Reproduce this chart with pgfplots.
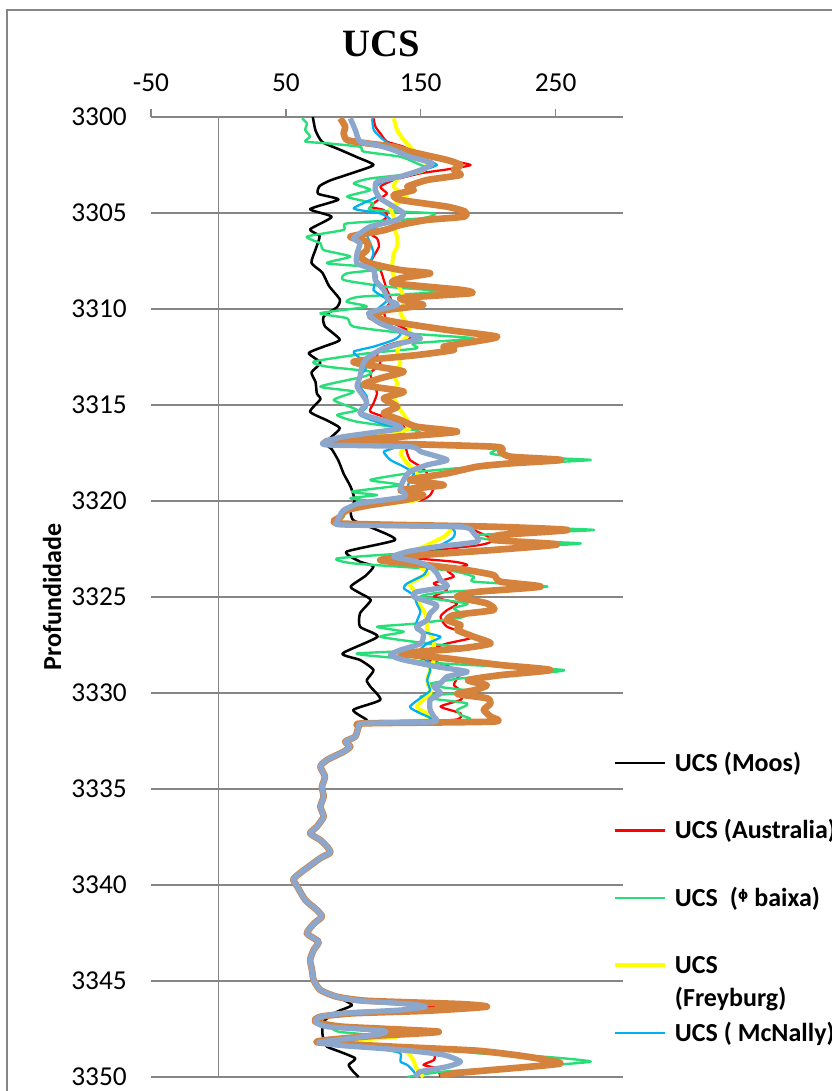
\documentclass[border=0pt]{standalone}
\usepackage{fontspec}
\setmainfont{Carlito}
\newfontfamily\titlefont{Liberation Serif}
\newfontfamily\dejavu{DejaVu Sans}
\usepackage{pgfplots}
\pgfplotsset{compat=1.18}

\definecolor{gridgray}{RGB}{134,134,134}
\definecolor{cMoos}{RGB}{0,0,0}
\definecolor{cAus}{RGB}{255,0,0}
\definecolor{cPhi}{RGB}{40,222,120}
\definecolor{cFrey}{RGB}{255,255,0}
\definecolor{cMcN}{RGB}{0,176,240}
\definecolor{cOrange}{RGB}{212,130,60}
\definecolor{cGrayBlue}{RGB}{141,166,204}

\begin{document}
\begin{tikzpicture}
% page area (1pt = 4/3 px of the final image)
\useasboundingbox (-113.25pt,-730.5pt) rectangle (510pt,87.75pt);
% chart area border
\draw[gridgray, line width=1.5pt] (-108pt,80.25pt) rectangle (540pt,-770pt);

\begin{axis}[
  at={(0pt,0pt)}, anchor=north west,
  scale only axis, width=354pt, height=720pt,
  xmin=-50, xmax=300, ymin=3300, ymax=3350, y dir=reverse,
  axis line style={draw=none},
  xtick={-50,50,150,250},
  ytick={3300,3305,...,3350},
  xtick pos=upper, xticklabel pos=upper,
  ytick pos=left, yticklabel pos=left,
  xtick align=outside, ytick align=inside,
  major tick length=6pt,
  xtick style={gridgray, line width=1.1pt},
  ytick style={draw=none},
  ymajorgrids,
  major grid style={gridgray, line width=1.1pt},
  extra x ticks={0}, extra x tick labels={},
  extra x tick style={xmajorgrids=true, tick style={draw=none}},
  /pgf/number format/assume math mode=true,
  /pgf/number format/1000 sep={},
  tick label style={font=\fontsize{20.5}{24}\selectfont},
  xticklabel style={anchor=base, inner sep=0pt, yshift=13.5pt},
  yticklabel style={anchor=east, inner sep=0pt, xshift=-18pt},
  title={UCS},
  title style={at={(0.4873,1.0547)}, anchor=base, inner sep=0pt,
    font=\titlefont\bfseries\fontsize{29}{31}\selectfont},
  ylabel={Profundidade},
  ylabel style={at={(-0.2097,0.5)}, anchor=center, inner sep=0pt,
    font=\bfseries\fontsize{19.5}{22}\selectfont},
  legend cell align=left,
  legend image code/.code={\draw[#1, line cap=butt] (0pt,0pt) -- (37.5pt,0pt);},
  legend style={at={(0.9788,0.3358)}, anchor=north west, draw=none, fill=none,
    inner sep=0pt, outer sep=0pt, row sep=38pt, column sep=6pt,
    font=\bfseries\fontsize{19.5}{22}\selectfont,
    nodes={inner sep=0pt, text height=12.6pt, text depth=0pt}},
  every axis plot/.append style={smooth, tension=0.35, line join=round},
]

% ---------------- UCS (Moos) ----------------
\addplot[cMoos, line width=1.9pt] coordinates {
(70,3300.0)(72,3300.7)(77,3301.3)(90,3301.7)(103,3302.1)(115,3302.5)(100,3302.9)
(83,3303.3)(75,3303.6)(74,3304.0)(89,3304.3)(68,3304.8)(84,3305.2)(68,3305.85)
(75,3306.2)(72,3306.9)(69,3307.6)(77,3308.1)(82,3308.8)(90,3309.5)(88,3309.9)
(78,3310.4)(79,3310.9)(90,3311.6)(78,3311.96)(67,3312.3)(75.6,3312.8)(69,3313.3)
(72,3313.8)(73,3314.4)(75.6,3314.7)(68,3315.35)(80.5,3315.8)(90,3316.2)(84,3316.65)
(79,3317.0)(84,3317.3)(89,3317.9)(93,3318.6)(98,3319.25)(101,3319.95)(98,3320.5)
(100,3321.0)(115,3321.43)(131,3322.03)(95,3322.64)(105,3323.16)(115,3323.4)
(109,3323.9)(98,3324.46)(105,3324.8)(113,3325.16)(105,3325.85)(105,3326.55)
(118,3327.07)(92,3327.94)(105,3328.28)(115,3328.8)(110,3329.33)(112.7,3329.67)
(120,3330.36)(100,3330.88)(110,3331.4)(107.7,3331.58)};
\addlegendentry{UCS (Moos)}
\addplot[cMoos, line width=1.9pt, forget plot] coordinates {
(88,3345.82)(99,3346.25)(88,3346.6)(78,3347.1)(77,3347.64)(78,3348.07)(80.5,3348.42)
(90,3348.68)(101.5,3349.03)(96.6,3349.37)(100,3349.72)(104,3350.0)};

% ---------------- UCS (Australia) ----------------
\addplot[cAus, line width=1.7pt] coordinates {
(115,3300.07)(116.4,3300.5)(120,3300.85)(125,3301.28)(137.4,3301.55)(147,3301.89)
(169.6,3302.24)(187,3302.5)(169.6,3302.73)(150,3302.93)(130,3303.28)(120,3303.63)
(125,3303.98)(120,3304.24)(112.7,3304.67)(122.6,3304.84)(125,3305.19)(117.6,3305.62)
(110,3305.97)(117.6,3306.32)(119,3306.75)(115,3307.27)(112.7,3307.62)(120,3307.97)
(122.6,3308.49)(125,3309.01)(128,3309.53)(125,3309.88)(122.6,3310.05)(125,3310.57)
(140,3311.09)(142,3311.53)(122.6,3311.96)(117.6,3312.4)(120,3312.83)(112.7,3313.35)
(115,3313.87)(117.6,3314.39)(115,3314.91)(112.7,3315.35)(130,3315.78)(137.4,3316.13)
(135,3316.47)(92.9,3316.73)(80.5,3316.9)(135,3317.17)(140,3317.52)(142,3317.86)
(149.8,3318.21)(154.8,3318.56)(154.8,3318.9)(159.7,3319.25)(157,3319.69)(149.8,3319.95)
(117.6,3320.21)(95.4,3320.47)(92.9,3321.17)(179.5,3321.34)(192,3321.6)(204,3322.03)
(194,3322.29)(150,3322.64)(135,3322.9)(174.6,3323.16)(184.5,3323.34)(169.6,3323.6)
(174.6,3323.94)(159.7,3324.29)(169.6,3324.64)(159.7,3324.99)(177,3325.33)(169.6,3325.68)
(164.7,3326.03)(169.6,3326.55)(189.4,3327.07)(169.6,3327.42)(154.8,3327.76)(147,3328.11)
(164.7,3328.46)(179.5,3328.89)(177,3329.24)(174.6,3329.59)(179.5,3329.85)(182,3330.01)
(179.5,3330.36)(164.7,3330.71)(179.5,3331.06)(174.6,3331.4)(107.7,3331.58)};
\addlegendentry{UCS (Australia)}
\addplot[cAus, line width=1.7pt, forget plot] coordinates {
(88,3345.82)(105,3346.03)(145,3346.2)(160,3346.34)(135,3346.51)(92.9,3346.68)
(75.6,3346.86)(71.8,3347.12)(80.5,3347.38)(130,3347.59)(122,3347.76)(97.8,3347.99)
(74.3,3348.2)(92.9,3348.37)(145,3348.6)(160,3348.85)(159.7,3349.12)(152,3349.37)
(162,3349.55)(164.7,3350.0)};

% ---------------- UCS (phi baixa) ----------------
\addplot[cPhi, line width=1.8pt] coordinates {
(62,3300.07)(65.6,3300.33)(64.4,3300.68)(68,3301.02)(64.4,3301.28)(80.5,3301.37)
(105,3301.55)(107.7,3301.8)(135,3302.07)(147,3302.41)(154.8,3302.67)(147,3302.93)
(112.7,3303.2)(100.3,3303.46)(112.7,3303.8)(95.4,3304.15)(115,3304.5)(112.7,3304.84)
(159.7,3305.02)(150,3305.28)(95.4,3305.54)(93,3305.88)(65.6,3306.23)(75.6,3306.58)
(78,3306.93)(97.8,3307.27)(80.5,3307.62)(125,3307.88)(95.4,3308.14)(92.9,3308.49)
(125,3308.84)(167,3309.1)(105,3309.36)(95,3309.62)(110,3309.88)(75.6,3310.22)
(95.4,3310.48)(100.3,3310.92)(140,3311.27)(189.4,3311.53)(144.9,3311.79)(147,3312.05)
(110,3312.31)(70.6,3312.74)(80.5,3313.0)(112.7,3313.26)(107.7,3313.52)(75.6,3314.04)
(100.3,3314.3)(85.5,3314.74)(102.8,3315.26)(88,3315.52)(102.8,3315.87)(144.9,3316.3)
(147,3316.56)(80.5,3316.82)(201.8,3317.17)(201.8,3317.52)(219,3317.69)(276,3317.86)
(229,3318.04)(192,3318.21)(149.8,3318.47)(112.7,3318.9)(135,3319.17)(99,3319.51)
(117.6,3319.69)(97.8,3319.86)(125,3320.12)(95.4,3320.47)(92.9,3320.82)(95.4,3321.17)
(204,3321.34)(278.5,3321.51)(192,3321.77)(204,3322.03)(268.6,3322.21)(204,3322.47)
(137.4,3322.73)(88,3322.99)(100.3,3323.25)(169.6,3323.6)(189.4,3323.94)(189.4,3324.2)
(243.9,3324.46)(169.6,3324.73)(149.8,3324.99)(184.5,3325.33)(174.6,3325.59)(182,3326.03)
(147,3326.38)(117.6,3326.55)(137.4,3326.81)(120,3327.07)(154.8,3327.42)(184.5,3327.68)
(102.8,3327.94)(135,3328.2)(164.7,3328.46)(256,3328.8)(219,3329.07)(179.5,3329.24)
(154.8,3329.58)(189.4,3329.93)(149.8,3330.19)(184.5,3330.54)(177,3330.88)(179.5,3331.14)
(184.5,3331.4)(107.7,3331.58)};
\addlegendentry{UCS\ \ ({\dejavu\raisebox{0.5ex}{\fontsize{10}{10}\selectfont ϕ}} baixa)}
\addplot[cPhi, line width=1.8pt, forget plot] coordinates {
(88,3345.82)(105,3346.03)(150,3346.2)(182,3346.34)(135,3346.51)(92.9,3346.68)
(75.6,3346.86)(71.8,3347.12)(82,3347.38)(89,3347.64)(110,3347.8)(97.8,3347.99)
(74.3,3348.2)(92.9,3348.37)(169.6,3348.6)(194,3348.77)(241,3348.94)(276,3349.2)
(229,3349.46)(167,3349.72)(140,3350.0)};

% ---------------- UCS (Freyburg) ----------------
\addplot[cFrey, line width=3pt] coordinates {
(130,3300.07)(132.5,3300.68)(137.4,3301.2)(142,3301.55)(147,3301.89)(154.8,3302.24)
(152,3302.76)(135,3303.1)(130,3303.63)(140,3304.24)(127.5,3304.67)(130,3305.19)
(130,3305.71)(132.5,3306.23)(132.5,3306.75)(130,3307.1)(128.8,3307.79)(130,3308.3)
(135,3308.99)(138,3309.53)(135,3310.22)(140,3310.75)(142,3311.27)(135,3311.79)
(132.5,3312.31)(135,3312.83)(130,3313.35)(132.5,3313.87)(130,3314.57)(135,3315.26)
(140,3315.78)(140,3316.3)(100,3316.65)(80.5,3316.9)(135,3317.17)(135,3317.52)
(140,3318.04)(147,3318.56)(149.8,3319.08)(149.8,3319.6)(147,3319.95)(115,3320.21)
(95.4,3320.47)(92.9,3321.17)(169.6,3321.34)(167,3321.86)(157,3322.21)(144.9,3322.64)
(142,3322.9)(149.8,3323.42)(154.8,3323.77)(142,3324.29)(144.9,3324.64)(147,3325.16)
(152,3325.68)(154.8,3326.2)(154.8,3326.72)(159.7,3327.24)(159.7,3327.76)(159.7,3328.28)
(157,3328.8)(154.8,3329.33)(157,3329.85)(157,3330.01)(147,3330.71)(154.8,3331.06)
(159.7,3331.4)(107.7,3331.58)};
\addlegendentry{\rlap{\raisebox{-24.75pt}[0pt][0pt]{(Freyburg)}}UCS}
\addplot[cFrey, line width=3pt, forget plot] coordinates {
(88,3345.82)(105,3346.03)(140,3346.2)(150,3346.34)(135,3346.51)(92.9,3346.68)
(75.6,3346.86)(71.8,3347.12)(80.5,3347.38)(122,3347.59)(132.5,3347.9)(100,3348.07)
(74.3,3348.2)(92.9,3348.37)(135,3348.6)(142,3348.85)(144.9,3349.2)(147,3349.55)
(152,3350.0)};

% ---------------- UCS (McNally) ----------------
\addplot[cMcN, line width=1.7pt] coordinates {
(114,3300.07)(115.2,3300.68)(122.6,3301.2)(130,3301.55)(142,3301.89)(154.8,3302.24)
(162,3302.5)(152,3302.76)(135,3303.1)(120,3303.45)(115,3303.8)(117.6,3304.15)
(100.3,3304.76)(120,3305.02)(127.5,3305.36)(117.6,3305.71)(110,3306.06)(112.7,3306.58)
(115,3307.1)(112.7,3307.62)(117.6,3308.32)(115,3309.01)(125,3309.53)(117.6,3310.05)
(122.6,3310.57)(135,3311.27)(130,3311.61)(115,3311.96)(100.3,3312.22)(105,3312.57)
(110,3313.0)(105,3313.52)(105,3314.04)(110,3314.56)(110,3315.09)(105,3315.52)
(120,3315.95)(135,3316.3)(92.9,3316.65)(80.5,3316.9)(130,3317.17)(122.6,3317.43)
(127.5,3317.86)(137.4,3318.21)(144.9,3318.56)(142,3318.9)(140,3319.43)(144.9,3319.95)
(115,3320.21)(95.4,3320.47)(92.9,3321.17)(169.6,3321.34)(174.6,3321.86)(164.7,3322.29)
(147,3322.64)(140,3322.9)(149.8,3323.16)(154.8,3323.51)(152,3323.86)(140,3324.29)
(137.4,3324.55)(144.9,3324.9)(147,3325.33)(149.8,3325.77)(147,3326.29)(147,3326.72)
(164.7,3327.07)(154.8,3327.42)(149.8,3327.76)(154.8,3328.28)(157,3328.8)(154.8,3329.33)
(157,3329.85)(154.8,3330.01)(142,3330.71)(149.8,3331.06)(157,3331.4)(107.7,3331.58)};
\addlegendentry{UCS ( McNally)}
\addplot[cMcN, line width=1.7pt, forget plot] coordinates {
(88,3345.82)(105,3346.03)(140,3346.2)(150,3346.34)(135,3346.51)(92.9,3346.68)
(75.6,3346.86)(71.8,3347.12)(80.5,3347.38)(120,3347.59)(110,3347.9)(74.3,3348.2)
(92.9,3348.37)(125,3348.6)(135,3348.77)(135,3349.2)(140,3349.37)(144.9,3349.72)
(147,3350.0)};

% ---------------- orange series ----------------
\addplot[cOrange, line width=5pt, forget plot] coordinates {
(90.4,3300.07)(94,3300.5)(92.9,3300.85)(95.4,3301.2)(110,3301.37)(130,3301.55)
(142,3301.8)(169.6,3302.24)(179.5,3302.5)(174.6,3302.76)(179.5,3303.02)(154.8,3303.28)
(140,3303.63)(144.9,3303.8)(130,3304.06)(135,3304.32)(169.6,3304.67)(183,3304.93)
(182,3305.19)(154.8,3305.36)(135,3305.62)(122.6,3305.9)(97.8,3306.23)(110,3306.49)
(110,3306.93)(105,3307.27)(112.7,3307.62)(135,3307.97)(157,3308.14)(135,3308.4)
(130,3308.66)(179.5,3309.0)(187,3309.18)(135,3309.44)(152,3309.79)(125,3310.05)
(112.7,3310.4)(137.4,3310.75)(169.6,3311.09)(206.7,3311.44)(189.4,3311.7)(167,3311.96)
(174.6,3312.13)(147,3312.4)(100.3,3312.74)(117.6,3313.0)(137.4,3313.26)(120,3313.61)
(107.7,3313.96)(137.4,3314.3)(122.6,3314.65)(132.5,3315.09)(122.6,3315.43)(135,3315.78)
(147,3316.13)(177,3316.39)(135,3316.65)(80.5,3316.9)(204,3317.17)(209,3317.43)
(216.6,3317.69)(254,3317.86)(216.6,3318.04)(192,3318.21)(169.6,3318.56)(142,3318.9)
(167,3319.17)(135,3319.43)(152,3319.69)(137.4,3319.95)(112.7,3320.21)(95.4,3320.47)
(90.4,3320.82)(90.4,3321.17)(204,3321.34)(258.7,3321.51)(209,3321.77)(204,3322.03)
(251,3322.26)(204,3322.55)(149.8,3322.82)(120,3323.08)(154.8,3323.34)(184.5,3323.6)
(204,3323.86)(209,3324.2)(238.9,3324.46)(192,3324.73)(177,3324.99)(199,3325.33)
(204,3325.68)(174.6,3325.94)(169.6,3326.2)(179.5,3326.46)(177,3326.72)(189.4,3327.07)
(201.8,3327.42)(179.5,3327.68)(135,3327.94)(169.6,3328.2)(209,3328.54)(246,3328.8)
(209,3329.07)(185,3329.33)(199,3329.6)(190,3329.85)(177,3330.05)(199,3330.27)
(201.8,3330.54)(196.8,3330.88)(201.8,3331.23)(204,3331.49)(107.7,3331.58)
(104,3331.75)(101.5,3332.27)(94,3332.53)(97.8,3332.79)(93,3333.05)(80.5,3333.49)
(75.6,3333.83)(79,3334.35)(76.8,3334.88)(78,3335.4)(75.6,3335.92)(78,3336.44)
(73,3336.96)(68,3337.31)(75.6,3337.66)(80.5,3338.0)(83,3338.31)(75.6,3338.6)
(67,3339.04)(62,3339.3)(55.5,3339.7)(58.5,3340.08)(64.4,3340.78)(73,3341.3)
(76.8,3341.65)(71,3342.0)(65.6,3342.52)(74.3,3342.95)(70.6,3343.38)(68,3343.9)
(69.4,3344.43)(70.6,3344.95)(75.6,3345.47)(88,3345.82)
(110,3346.03)(179.5,3346.2)(199,3346.34)(154.8,3346.55)(100,3346.68)(75.6,3346.86)
(71.8,3347.12)(92,3347.38)(163.4,3347.64)(117,3347.85)(80.5,3348.07)(74.3,3348.2)
(130,3348.42)(192,3348.63)(229,3348.94)(253.8,3349.29)(216.6,3349.55)(174.6,3349.81)
(164.7,3350.0)};

% ---------------- gray-blue series ----------------
\addplot[cGrayBlue, line width=4pt, forget plot] coordinates {
(97.8,3300.07)(101.5,3300.68)(105,3301.28)(117.6,3301.46)(130,3301.72)(142,3302.07)
(158.5,3302.41)(150,3302.76)(135,3303.1)(117.6,3303.37)(116.4,3303.8)(120,3304.24)
(130,3304.67)(137.4,3305.02)(132.5,3305.36)(112.7,3305.71)(105,3306.06)(100,3306.32)
(105,3306.58)(102.8,3307.1)(102.8,3307.62)(115,3307.97)(116.4,3308.5)(122.6,3309.01)
(126,3309.53)(132.5,3309.79)(111.4,3310.22)(120,3310.75)(140,3311.27)(149.8,3311.53)
(135,3311.79)(120,3312.13)(110,3312.57)(106.5,3313.0)(105,3313.52)(102.8,3314.04)
(107.7,3314.56)(110,3314.91)(105,3315.43)(125,3315.87)(135,3316.21)(92.9,3316.65)
(79.3,3316.9)(80.5,3317.08)(142,3317.17)(150,3317.43)(169.6,3317.86)(154.8,3318.12)
(142,3318.47)(137.4,3318.9)(135,3319.34)(138,3319.78)(105,3320.12)(92.9,3320.47)
(90.4,3320.73)(88,3321.08)(92,3321.25)(179.5,3321.34)(189.4,3321.69)(192,3322.12)
(162,3322.38)(140,3322.64)(130,3322.9)(147,3323.16)(157,3323.42)(162,3323.77)
(164.7,3324.12)(169.6,3324.46)(147,3324.73)(144.9,3324.99)(162,3325.42)(157,3325.85)
(154.8,3326.2)(147,3326.55)(152,3326.9)(150,3327.42)(135,3327.76)(127.5,3328.02)
(137.4,3328.28)(162,3328.63)(184.5,3328.89)(169.6,3329.15)(164.7,3329.5)(159.7,3329.67)
(164.7,3330.01)(157,3330.36)(157,3330.88)(159.7,3331.23)(159.7,3331.5)(107.7,3331.58)
(104,3331.75)(101.5,3332.27)(94,3332.53)(97.8,3332.79)(93,3333.05)(80.5,3333.49)
(75.6,3333.83)(79,3334.35)(76.8,3334.88)(78,3335.4)(75.6,3335.92)(78,3336.44)
(73,3336.96)(68,3337.31)(75.6,3337.66)(80.5,3338.0)(83,3338.31)(75.6,3338.6)
(67,3339.04)(62,3339.3)(55.5,3339.7)(58.5,3340.08)(64.4,3340.78)(73,3341.3)
(76.8,3341.65)(71,3342.0)(65.6,3342.52)(74.3,3342.95)(70.6,3343.38)(68,3343.9)
(69.4,3344.43)(70.6,3344.95)(75.6,3345.47)(88,3345.82)
(105,3346.03)(142,3346.2)(153.5,3346.34)(135,3346.51)(92.9,3346.68)(75.6,3346.86)
(71.8,3347.12)(80.5,3347.38)(122.6,3347.59)(120,3347.76)(97.8,3347.99)(74.3,3348.2)
(92.9,3348.37)(137.4,3348.6)(167,3348.85)(179.5,3349.2)(169.6,3349.46)(149.8,3349.72)
(146,3350.0)};

\end{axis}
\end{tikzpicture}
\end{document}
